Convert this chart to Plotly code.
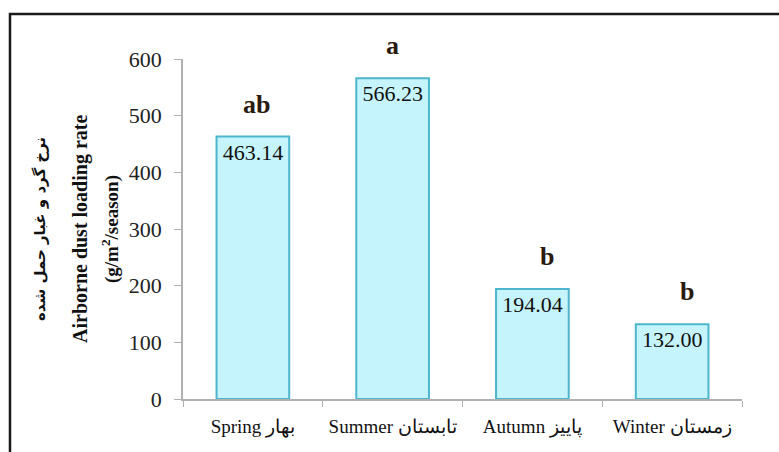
import plotly.graph_objects as go

categories = ["Spring بهار", "Summer تابستان", "Autumn پاییز", "Winter زمستان"]
values = [463.14, 566.23, 194.04, 132.00]
letters = ["ab", "a", "b", "b"]
y_ticks = [0, 100, 200, 300, 400, 500, 600]

SERIF = "Liberation Serif, Times New Roman, serif"

fig = go.Figure()
fig.add_trace(go.Bar(
    x=categories,
    y=values,
    width=0.52,
    marker=dict(color="#c6f4fc", line=dict(color="#4db6cc", width=2)),
    text=[f"{v:.2f}" for v in values],
    textposition="inside",
    insidetextanchor="end",
    textangle=0,
    textfont=dict(family=SERIF, size=22, color="#111111"),
    cliponaxis=False,
    hoverinfo="skip",
))

letter_xshift = {"ab": 4, "a": 0, "b": 15}
for c, v, l in zip(categories, values, letters):
    fig.add_annotation(
        x=c, y=v, text=f"<b>{l}</b>", showarrow=False, yanchor="bottom", yshift=16,
        xshift=letter_xshift[l],
        font=dict(family=SERIF, size=26, color="#2a1a10"),
    )

# y-axis titles (three rotated lines)
fig.add_annotation(xref="paper", yref="paper", x=0, y=0.5, xshift=-143,
                   xanchor="center", yanchor="middle",
                   text="<b>نرخ گرد و غبار حمل شده</b>", textangle=-90, showarrow=False,
                   font=dict(family="DejaVu Sans, sans-serif", size=15, color="#111111"))
fig.add_annotation(xref="paper", yref="paper", x=0, y=0.5, xshift=-103,
                   xanchor="center", yanchor="middle",
                   text="<b>Airborne dust loading rate</b>", textangle=-90, showarrow=False,
                   font=dict(family=SERIF, size=20, color="#111111"))
fig.add_annotation(xref="paper", yref="paper", x=0, y=0.5, xshift=-73,
                   xanchor="center", yanchor="middle",
                   text="<b>(g/m<sup>2</sup>/season)</b>", textangle=-90, showarrow=False,
                   font=dict(family=SERIF, size=19, color="#111111"))

# outer frame
fig.add_shape(type="rect", xref="paper", yref="paper",
              x0=-0.3095, x1=1.3, y0=-0.4, y1=1.132,
              line=dict(color="#1a1a1a", width=2.5), layer="above")

fig.update_layout(
    width=779, height=452,
    margin=dict(l=183, r=37, t=59, b=53, autoexpand=False),
    paper_bgcolor="white", plot_bgcolor="white",
    showlegend=False,
    bargap=0.48,
    font=dict(family=SERIF, color="#222222"),
)
fig.update_xaxes(
    showline=True, linecolor="#b0b0b0", linewidth=1.5,
    ticks="outside", tickson="boundaries", ticklen=6, tickcolor="#b0b0b0",
    tickfont=dict(family=SERIF, size=19, color="#111111"),
    tickangle=0, automargin=False,
    ticklabelstandoff=9, showgrid=False, zeroline=False,
)
fig.update_yaxes(
    range=[0, 600], tickvals=y_ticks,
    showline=True, linecolor="#b0b0b0", linewidth=1.5,
    ticks="outside", ticklen=7, tickcolor="#b0b0b0",
    tickfont=dict(family=SERIF, size=22, color="#222222"),
    automargin=False,
    ticklabelstandoff=8, showgrid=False, zeroline=False,
)

fig.write_html("out.html",
               config={"displayModeBar": False},
               post_script="document.body.style.margin='0';document.body.style.overflow='hidden';")
